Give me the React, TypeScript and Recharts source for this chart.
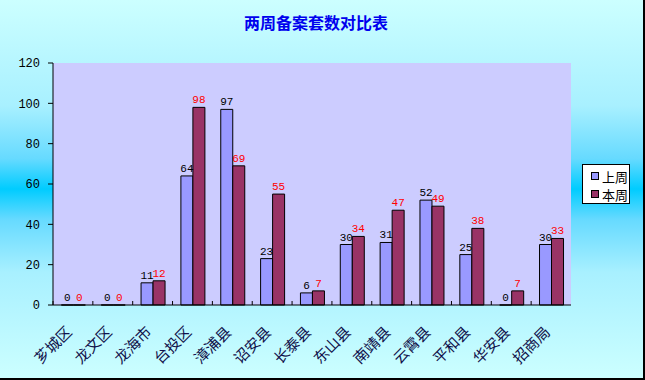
import { Bar, BarChart, CartesianGrid, LabelList, XAxis, YAxis } from "recharts";

const categories = ["芗城区", "龙文区", "龙海市", "台投区", "漳浦县", "诏安县", "长泰县", "东山县", "南靖县", "云霄县", "平和县", "华安县", "招商局"];
const lastWeek = [0, 0, 11, 64, 97, 23, 6, 30, 31, 52, 25, 0, 30];
const thisWeek = [0, 0, 12, 98, 69, 55, 7, 34, 47, 49, 38, 7, 33];
const yTicks = [0, 20, 40, 60, 80, 100, 120];

const TITLE = "两周备案套数对比表";
const SERIES = [
  { key: "lastWeek", name: "上周", color: "#9999FF", label: "#000000" },
  { key: "thisWeek", name: "本周", color: "#993366", label: "#FF0000" },
];

const data = categories.map((name, i) => ({ name, lastWeek: lastWeek[i], thisWeek: thisWeek[i] }));

const W = 645;
const H = 380;
const PLOT = { left: 53, top: 63, right: 571, bottom: 305 };
const CJK = '"Noto Sans CJK SC", "Noto Sans", sans-serif';
const NUM = '"Liberation Mono", "DejaVu Sans Mono", monospace';

const CategoryTick = (props: any) => {
  const { x, y, payload } = props;
  const half = payload?.offset ?? (PLOT.right - PLOT.left) / categories.length / 2;
  const tx = x;
  const ty = y + 28;
  return (
    <g>
      <line x1={x - half} x2={x - half} y1={y} y2={y - 4} stroke="#000" strokeWidth={1} />
      <text
        x={tx}
        y={ty}
        textAnchor="end"
        transform={`rotate(-45 ${tx} ${ty})`}
        fontSize={15}
        fontFamily={CJK}
        fill="#10104a"
      >
        {payload.value}
      </text>
    </g>
  );
};

export default function App() {
  return (
    <div
      style={{
        position: "absolute",
        left: 0,
        top: 0,
        width: W - 2,
        height: H - 2,
        borderRight: "2px solid #000",
        borderBottom: "2px solid #000",
        background:
          "linear-gradient(to bottom, #CCFFFF 0%, #A8F0FF 28%, #66DAFF 42%, #00CCFF 50%, #66DAFF 58%, #A8F0FF 72%, #CCFFFF 100%)",
        overflow: "hidden",
      }}
    >
      <div
        style={{
          position: "absolute",
          left: 0,
          width: 632,
          top: 10,
          textAlign: "center",
          fontFamily: CJK,
          fontWeight: 700,
          fontSize: 16,
          color: "#0000EE",
        }}
      >
        {TITLE}
      </div>
      <BarChart
        width={W - 2}
        height={H - 2}
        data={data}
        margin={{ top: PLOT.top, right: W - 2 - PLOT.right, left: PLOT.left - 40, bottom: 0 }}
        barCategoryGap="21%"
        barGap={0}
      >
        <CartesianGrid horizontal={false} vertical={false} fill="#CCCCFF" />
        <XAxis
          xAxisId="top"
          orientation="top"
          dataKey="name"
          height={0}
          tick={false}
          tickLine={false}
          axisLine={{ stroke: "#808080" }}
        />
        <YAxis yAxisId="right" orientation="right" width={0} tick={false} tickLine={false} axisLine={{ stroke: "#808080" }} />
        <XAxis
          dataKey="name"
          height={H - 2 - PLOT.bottom}
          interval={0}
          tickSize={0}
          tickMargin={0}
          tickLine={false}
          axisLine={{ stroke: "#000" }}
          tick={<CategoryTick />}
        />
        <YAxis
          domain={[0, 120]}
          ticks={yTicks}
          width={40}
          tickSize={5}
          tickMargin={8}
          axisLine={{ stroke: "#000" }}
          tickLine={{ stroke: "#000" }}
          tick={{ fill: "#000", fontSize: 12, fontFamily: NUM }}
        />
        {SERIES.map((s) => (
          <Bar
            key={s.key}
            dataKey={s.key}
            name={s.name}
            fill={s.color}
            stroke="#000"
            strokeWidth={1}
            minPointSize={0.01}
            isAnimationActive={false}
          >
            <LabelList dataKey={s.key} position="top" offset={4} fill={s.label} fontSize={11} fontFamily={NUM} />
          </Bar>
        ))}
      </BarChart>
      <div
        style={{
          position: "absolute",
          left: 582,
          top: 164,
          width: 48,
          height: 40,
          background: "#fff",
          border: "1px solid #000",
          fontFamily: CJK,
          fontSize: 13,
          color: "#000",
          padding: "2px 0 0 8px",
          boxSizing: "border-box",
          whiteSpace: "nowrap",
        }}
      >
        {SERIES.map((s) => (
          <div key={s.key} style={{ display: "flex", alignItems: "center", height: 18 }}>
            <span style={{ flex: "none", width: 6, height: 6, background: s.color, border: "1px solid #000", marginRight: 3 }} />
            <span>{s.name}</span>
          </div>
        ))}
      </div>
    </div>
  );
}
